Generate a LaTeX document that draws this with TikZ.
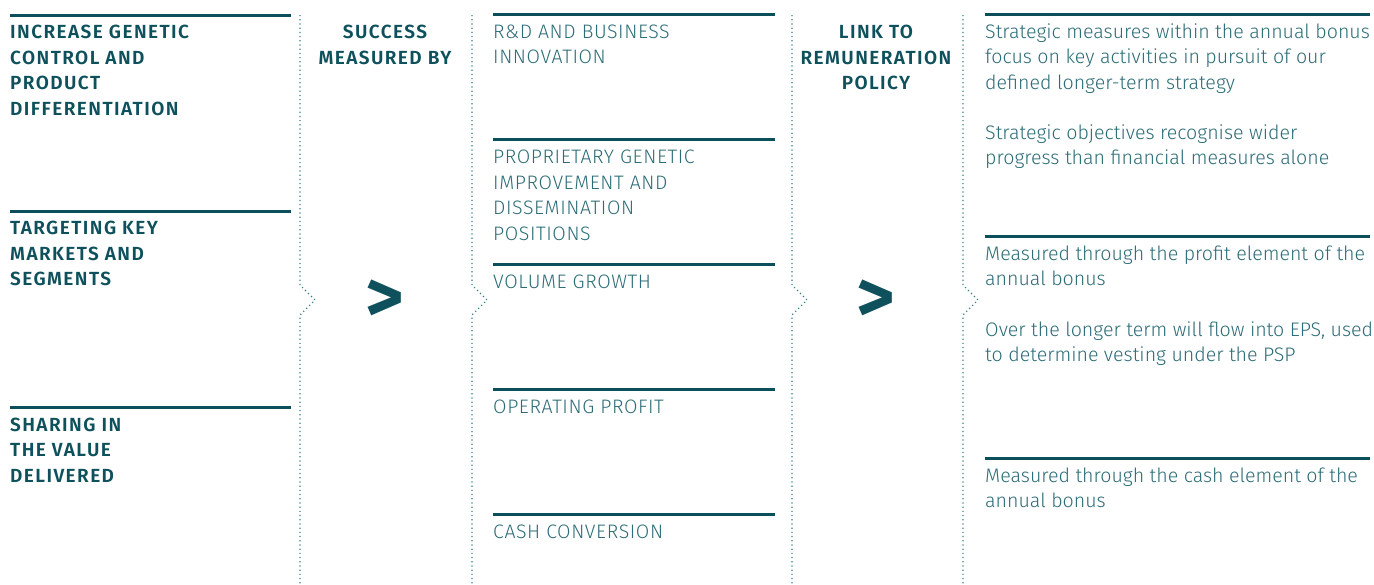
\documentclass[tikz,border=0pt]{standalone}
\usepackage{fontspec}
\setmainfont{Fira Sans}[UprightFont=* Light, BoldFont=* SemiBold]
\newfontfamily\headff{Fira Sans SemiBold}[LetterSpace=7.5]
\newfontfamily\chevff{Fira Sans Bold}
\newfontfamily\capsff{Fira Sans Light}[LetterSpace=3]
\definecolor{rulec}{HTML}{0B4F5A}
\definecolor{headc}{HTML}{0E515C}
\definecolor{bodyc}{HTML}{2C6C76}
\definecolor{dotc}{HTML}{3B7F88}
\begin{document}
\begin{tikzpicture}[x=1pt,y=-1pt,
  rulel/.style={draw=rulec,line width=3pt},
  dotl/.style={draw=dotc,line width=1.2pt,dash pattern=on 1.2pt off 3pt},
  headtxt/.style={anchor=base west,inner sep=0pt,align=left,text=headc,font=\headff\fontsize{19}{25.5}\selectfont},
  midtxt/.style={anchor=base,inner sep=0pt,align=center,text=headc,font=\headff\fontsize{19}{25.5}\selectfont},
  capstxt/.style={anchor=base west,inner sep=0pt,align=left,text=bodyc,font=\capsff\fontsize{19.5}{25.5}\selectfont},
  bodytxt/.style={anchor=base west,inner sep=0pt,align=left,text=bodyc,font=\fontsize{19.6}{25.5}\selectfont},
  chev/.style={anchor=center,inner sep=0pt,text=headc,font=\chevff\fontsize{74}{74}\selectfont}]
\useasboundingbox (0,0) rectangle (1374,584);
% column 1 rules
\coordinate (c1a) at (10,15); \coordinate (c1b) at (291,15);
\coordinate (c1c) at (10,211); \coordinate (c1d) at (291,211);
\coordinate (c1e) at (10,407); \coordinate (c1f) at (291,407);
\draw[rulel] (c1a) -- (c1b);
\draw[rulel] (c1c) -- (c1d);
\draw[rulel] (c1e) -- (c1f);
% (anchor = baseline of last line)
\node[headtxt] (g1) at (10,115) {INCREASE GENETIC\\CONTROL AND\\PRODUCT\\DIFFERENTIATION};
\node[headtxt] (g2) at (10,285.5) {TARGETING KEY\\MARKETS AND\\SEGMENTS};
\node[headtxt] (g3) at (10,482) {SHARING IN\\THE VALUE\\DELIVERED};
% dotted separators with kink
\foreach \xx/\nm in {300/d1,472/d2,792/d3,963/d4}{
  \coordinate (\nm t) at (\xx,15);
  \coordinate (\nm a) at (\xx,285);
  \coordinate (\nm k) at (\xx+15,300);
  \coordinate (\nm b) at (\xx,315);
  \coordinate (\nm e) at (\xx,584);
  \draw[dotl] (\nm t) -- (\nm a) -- (\nm k) -- (\nm b) -- (\nm e);
}
% middle headings
\node[midtxt] (m1) at (385,64) {SUCCESS\\MEASURED BY};
\node[chev] (ch1) at (385,301) {>};
\node[midtxt] (m2) at (876,89.5) {LINK TO\\REMUNERATION\\POLICY};
\node[chev] (ch2) at (876,301) {>};
% column 3
\foreach \yy/\nm in {14/r1,139/r2,264/r3,389/r4,514/r5}{
  \coordinate (\nm l) at (493,\yy); \coordinate (\nm r) at (775,\yy);
  \draw[rulel] (\nm l) -- (\nm r);
}
\node[capstxt] (k1) at (493,63.5) {R\&D AND BUSINESS\\INNOVATION};
\node[capstxt] (k2) at (493,240) {PROPRIETARY GENETIC\\IMPROVEMENT AND\\DISSEMINATION\\POSITIONS};
\node[capstxt] (k3) at (493,288.5) {VOLUME GROWTH};
\node[capstxt] (k4) at (493,413.5) {OPERATING PROFIT};
\node[capstxt] (k5) at (493,538.5) {CASH CONVERSION};
% column 5
\foreach \yy/\nm in {14/s1,236/s2,458/s3}{
  \coordinate (\nm l) at (985,\yy); \coordinate (\nm r) at (1370,\yy);
  \draw[rulel] (\nm l) -- (\nm r);
}
\node[bodytxt] (p1) at (985,89) {Strategic measures within the annual bonus\\focus on key activities in pursuit of our\\defined longer-term strategy};
\node[bodytxt] (p2) at (985,164.5) {Strategic objectives recognise wider\\progress than financial measures alone};
\node[bodytxt] (p3) at (985,285.5) {Measured through the profit element of the\\annual bonus};
\node[bodytxt] (p4) at (985,361.5) {Over the longer term will flow into EPS, used\\to determine vesting under the PSP};
\node[bodytxt] (p5) at (985,507.5) {Measured through the cash element of the\\annual bonus};
\end{tikzpicture}
\end{document}
